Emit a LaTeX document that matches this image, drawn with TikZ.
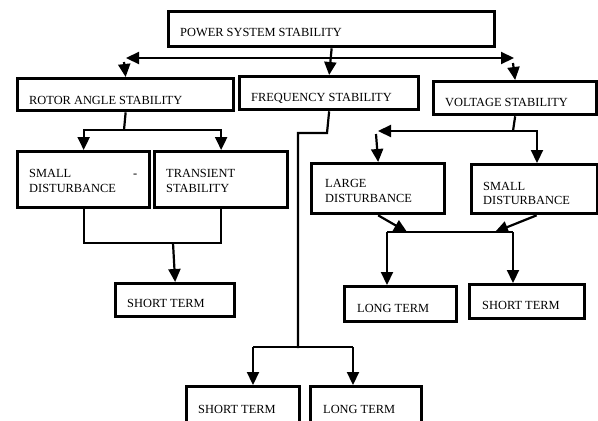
\documentclass[tikz,border=0pt]{standalone}
\usepackage{fontspec}
\setmainfont{Liberation Serif}
\usetikzlibrary{arrows.meta}
\begin{document}
\begin{tikzpicture}[x=1pt,y=-1pt,
  box/.style={draw, line width=3.3pt, inner sep=0pt, anchor=north west},
  txt/.style={inner sep=0pt, anchor=base west, font=\fontsize{12.4}{15}\selectfont},
  conn/.style={line width=2.2pt},
  arr/.style={line width=2.2pt, -{Triangle[length=13pt,width=12pt]}}]
\useasboundingbox (0,0) rectangle (598,421);
\clip (0,0) rectangle (598,421);

% boxes
\node[box, minimum width=326pt, minimum height=35pt] (power) at (167,10) {};
\node[box, minimum width=216pt, minimum height=32pt] (rotor) at (16,77) {};
\node[box, minimum width=179pt, minimum height=33pt] (freq) at (238,75) {};
\node[box, minimum width=163pt, minimum height=33pt] (volt) at (432,80) {};
\node[box, minimum width=132pt, minimum height=56pt] (small) at (16,150) {};
\node[box, minimum width=133pt, minimum height=56pt] (trans) at (153,150) {};
\node[box, minimum width=119pt, minimum height=33pt] (shortA) at (114,282) {};
\node[box, minimum width=133pt, minimum height=50pt] (large) at (310,162) {};
\node[box, minimum width=126pt, minimum height=49pt] (smallv) at (470,163) {};
\node[box, minimum width=112pt, minimum height=35pt] (longA) at (343,285) {};
\node[box, minimum width=115pt, minimum height=34pt] (shortB) at (468,283) {};
\node[box, minimum width=113pt, minimum height=40pt] (shortC) at (185,385) {};
\node[box, minimum width=111pt, minimum height=40pt] (longB) at (309,385) {};

% texts
\node[txt] (powert) at (180,36) {POWER SYSTEM STABILITY};
\node[txt] (rotort) at (29,104) {ROTOR ANGLE STABILITY};
\node[txt] (freqt) at (251,101) {FREQUENCY STABILITY};
\node[txt] (voltt) at (445,106) {VOLTAGE STABILITY};
\node[txt] (smallt1) at (29,177) {\makebox[108pt][l]{SMALL\hfill-}};
\node[txt] (smallt2) at (29,192) {DISTURBANCE};
\node[txt] (transt1) at (166,177) {TRANSIENT};
\node[txt] (transt2) at (166,192) {STABILITY};
\node[txt] (shortAt) at (127,307) {SHORT TERM};
\node[txt] (larget1) at (325,187) {LARGE};
\node[txt] (larget2) at (325,202) {DISTURBANCE};
\node[txt] (smallvt1) at (483,190) {SMALL};
\node[txt] (smallvt2) at (483,204) {DISTURBANCE};
\node[txt] (longAt) at (357,312) {LONG TERM};
\node[txt] (shortBt) at (482,309) {SHORT TERM};
\node[txt] (shortCt) at (198,413) {SHORT TERM};
\node[txt] (longBt) at (323,413) {LONG TERM};

% top level connectors
\coordinate (busL) at (126,58);
\coordinate (busR) at (514,58);
\coordinate (rotIn) at (124,62);
\coordinate (volIn) at (513,63);
\draw[arr] (power.south) -- (freq.north);
\draw[arr] (power.south |- busL) -- (busL);
\draw[arr] (power.south |- busR) -- (busR);
\draw[arr] (rotIn) -- (rotor.north);
\draw[arr] (volIn) -- (volt.north);

% rotor angle branch
\coordinate (rj) at (124,130);
\draw[conn] (rotor.south) -- (rj);
\draw[arr] (rj) -| (small.north);
\draw[arr] (rj) -| (trans.north);
\coordinate (sj) at (173,243);
\draw[conn] (small.south) |- (trans.south |- sj) -- (trans.south);
\draw[arr] (sj) -- (shortA.north);

% frequency branch
\coordinate (fk) at (327,133);
\coordinate (fv) at (298,348);
\coordinate (fa) at (253,347);
\coordinate (fb) at (353,347);
\draw[conn] (freq.south) -- (fk) -| (fv);
\draw[conn] (fa) -- (fb);
\draw[arr] (fa) -- (fa |- shortC.north);
\draw[arr] (fb) -- (fb |- longB.north);

% voltage branch
\coordinate (vj) at (513,131);
\coordinate (vL) at (378,131);
\coordinate (vR) at (537,131);
\coordinate (vLd) at (376,134);
\draw[conn] (volt.south) -- (vj);
\draw[arr] (vj) -- (vL);
\draw[arr] (vj) -- (vR) -- (vR |- smallv.north);
\draw[arr] (vLd) -- (large.north);

\coordinate (lt) at (407,232);
\coordinate (st) at (495,232);
\coordinate (ba) at (387,232);
\coordinate (bb) at (513,232);
\draw[arr] (large.south) -- (lt);
\draw[arr] ([xshift=2pt]smallv.south) -- (st);
\draw[conn] (ba) -- (bb);
\draw[arr] (ba) -- (ba |- longA.north);
\draw[arr] (bb) -- (bb |- shortB.north);
\end{tikzpicture}
\end{document}
